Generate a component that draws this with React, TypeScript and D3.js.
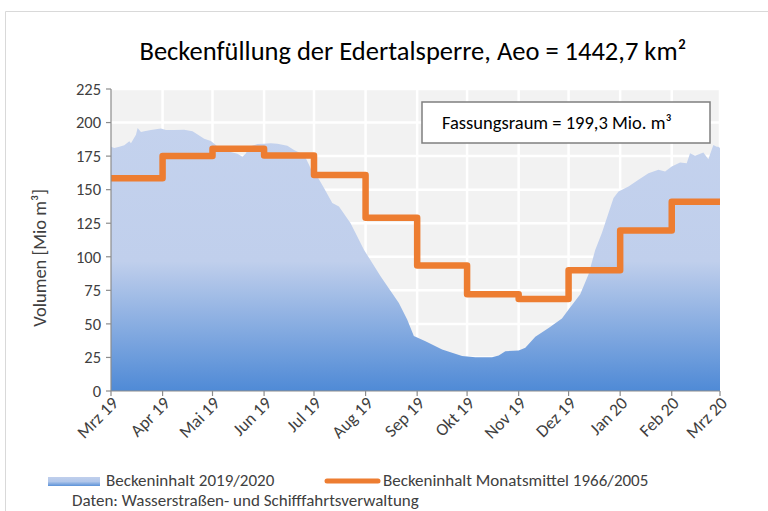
import React from 'react'
import * as d3 from 'd3'

// Beckeninhalt 2019/2020 (Mio m³)
const fillDates = [
  '2019-03-01', '2019-03-03', '2019-03-06', '2019-03-09', '2019-03-12', '2019-03-13', '2019-03-16', '2019-03-17',
  '2019-03-19', '2019-03-21', '2019-03-25', '2019-03-31', '2019-04-03', '2019-04-08', '2019-04-14', '2019-04-19',
  '2019-04-23', '2019-04-26', '2019-04-30', '2019-05-03', '2019-05-06', '2019-05-12', '2019-05-16', '2019-05-19',
  '2019-05-21', '2019-05-23', '2019-05-28', '2019-06-01', '2019-06-05', '2019-06-09', '2019-06-15', '2019-06-19',
  '2019-06-23', '2019-06-26', '2019-06-28', '2019-06-30', '2019-07-03', '2019-07-07', '2019-07-12', '2019-07-16',
  '2019-07-23', '2019-07-31', '2019-08-10', '2019-08-21', '2019-08-26', '2019-08-30', '2019-09-06', '2019-09-16',
  '2019-09-28', '2019-10-06', '2019-10-16', '2019-10-20', '2019-10-24', '2019-11-01', '2019-11-05', '2019-11-11',
  '2019-11-19', '2019-11-27', '2019-12-01', '2019-12-08', '2019-12-13', '2019-12-17', '2019-12-21', '2019-12-25',
  '2019-12-28', '2019-12-31', '2020-01-06', '2020-01-12', '2020-01-18', '2020-01-24', '2020-01-28', '2020-02-01',
  '2020-02-06', '2020-02-10', '2020-02-12', '2020-02-15', '2020-02-20', '2020-02-23', '2020-02-26', '2020-02-28',
  '2020-02-29', '2020-03-01',
]
const fillValues = [
  182, 181, 182, 183, 186, 184.5, 191, 196,
  193, 193.5, 194.5, 195.5, 194.5, 194.5, 194.7, 193.5,
  190.3, 188, 186.3, 183.3, 179, 178, 176.7, 174.6,
  177, 182, 184, 184.3, 184.6, 184.3, 182.8, 179.6,
  177.2, 173.5, 168.5, 163, 159.8, 151.2, 140, 137.5,
  125, 105.3, 85.4, 65.6, 53.2, 41, 37, 31,
  26, 25.2, 25.2, 26.5, 29.7, 30.2, 32.2, 40.4,
  47, 54, 60.7, 72, 87, 105, 117.7, 132.6,
  143.7, 148.6, 152.3, 157.3, 162.3, 164.8, 163.5, 167.2,
  170.2, 169.7, 177.2, 175.2, 177.6, 172.7, 183.3, 182,
  182, 181,
]

// Monatsmittel 1966/2005
const monthDates = [
  '2019-03-01', '2019-04-01', '2019-05-01', '2019-06-01', '2019-07-01', '2019-08-01', '2019-09-01',
  '2019-10-01', '2019-11-01', '2019-12-01', '2020-01-01', '2020-02-01', '2020-03-01',
]
const meanValues = [158.5, 175, 180.5, 175.5, 161, 129, 93.5, 72, 68.5, 90, 119.5, 141, 141]

const monthLabels = [
  'Mrz 19', 'Apr 19', 'Mai 19', 'Jun 19', 'Jul 19', 'Aug 19', 'Sep 19',
  'Okt 19', 'Nov 19', 'Dez 19', 'Jan 20', 'Feb 20', 'Mrz 20',
]
const yTicks = [0, 25, 50, 75, 100, 125, 150, 175, 200, 225]

const FONT = 'Carlito, Lato, sans-serif'
const W = 768
const H = 511
const margin = { top: 89, right: 48, bottom: 120, left: 111 }

export default function App() {
  const parse = d3.timeParse('%Y-%m-%d')
  const x = d3.scaleTime()
    .domain([parse('2019-03-01')!, parse('2020-03-01')!])
    .range([margin.left, W - margin.right])
  const y = d3.scaleLinear().domain([0, 225]).range([H - margin.bottom, margin.top])

  const fillData = fillDates.map((d, i) => ({ date: parse(d)!, v: fillValues[i] }))
  const meanData = monthDates.map((d, i) => ({ date: parse(d)!, v: meanValues[i] }))
  const months = monthDates.map(d => parse(d)!)

  const area = d3.area<{ date: Date; v: number }>()
    .x(d => x(d.date)).y0(y(0)).y1(d => y(d.v))
  const step = d3.line<{ date: Date; v: number }>()
    .x(d => x(d.date)).y(d => y(d.v)).curve(d3.curveStepAfter)

  const [x0, x1] = x.range()
  const [y0, y1] = y.range()

  return (
    <svg width={W} height={H} style={{ position: 'absolute', left: 0, top: 0, background: '#fff' }}>
      <defs>
        <linearGradient id="fillGrad" gradientUnits="userSpaceOnUse" x1={0} x2={0} y1={y1} y2={y0}>
          <stop offset="0" stopColor="#c5d3ee" />
          <stop offset="0.57" stopColor="#c0cfec" />
          <stop offset="1" stopColor="#4f8ad6" />
        </linearGradient>
        <linearGradient id="legGrad" x1="0" x2="0" y1="0" y2="1">
          <stop offset="0" stopColor="#c0cfec" />
          <stop offset="0.5" stopColor="#b2c7ea" />
          <stop offset="1" stopColor="#5b92d8" />
        </linearGradient>
      </defs>

      {/* chart frame */}
      <path d={`M5.5,${H}V11.5H${W}`} fill="none" stroke="#d9d9d9" strokeWidth={1} />

      <text x={413} y={60} textAnchor="middle" fontFamily={FONT} fontSize={26.5} fill="#000">
        Beckenfüllung der Edertalsperre, Aeo = 1442,7 km²
      </text>

      {/* plot background + grid */}
      <rect x={x0} y={y1} width={x1 - x0} height={y0 - y1} fill="#f2f2f2" />
      {yTicks.slice(1).map(t => (
        <line key={t} x1={x0} x2={x1} y1={y(t)} y2={y(t)} stroke="#fff" strokeWidth={2.5} />
      ))}
      {months.slice(1).map((m, i) => (
        <line key={i} x1={x(m)} x2={x(m)} y1={y1} y2={y0} stroke="#fff" strokeWidth={2.5} />
      ))}

      <path d={area(fillData)!} fill="url(#fillGrad)" />
      <path d={step(meanData)!} fill="none" stroke="#ed7d31" strokeWidth={6.5} strokeLinejoin="round" />

      {/* axes */}
      <line x1={x0} x2={x0} y1={y1} y2={y0} stroke="#8c8c8c" strokeWidth={1.2} />
      <line x1={x0} x2={x1} y1={y0} y2={y0} stroke="#8c8c8c" strokeWidth={1.2} />
      {yTicks.map(t => (
        <g key={t}>
          <line x1={x0 - 5} x2={x0} y1={y(t)} y2={y(t)} stroke="#8c8c8c" strokeWidth={1.2} />
          <text x={x0 - 10} y={y(t)} dy="0.35em" textAnchor="end" fontFamily={FONT} fontSize={16.5} fill="#404040">
            {t}
          </text>
        </g>
      ))}
      {months.map((m, i) => (
        <g key={i}>
          <line x1={x(m)} x2={x(m)} y1={y0} y2={y0 + 5} stroke="#8c8c8c" strokeWidth={1.2} />
          <text transform={`translate(${x(m) + 4},${y0 + 9}) rotate(-45)`} dy="0.35em" textAnchor="end"
            fontFamily={FONT} fontSize={17.5} fill="#404040">
            {monthLabels[i]}
          </text>
        </g>
      ))}
      <text transform={`translate(46,258) rotate(-90)`} textAnchor="middle" fontFamily={FONT} fontSize={18.5} fill="#404040">
        Volumen [Mio m³]
      </text>

      {/* annotation box */}
      <rect x={422} y={102} width={288} height={41} fill="#fff" stroke="#7f7f7f" strokeWidth={1.5} />
      <text x={442} y={129} fontFamily={FONT} fontSize={18.5} fill="#000">
        Fassungsraum = 199,3 Mio. m³
      </text>

      {/* legend */}
      <rect x={48} y={477} width={52} height={9} fill="url(#legGrad)" />
      <text x={106} y={486} fontFamily={FONT} fontSize={17} fill="#404040">Beckeninhalt 2019/2020</text>
      <line x1={327} x2={378} y1={481} y2={481} stroke="#ed7d31" strokeWidth={5} strokeLinecap="round" />
      <text x={383} y={486} fontFamily={FONT} fontSize={17} fill="#404040">Beckeninhalt Monatsmittel 1966/2005</text>
      <text x={72} y={506} fontFamily={FONT} fontSize={17} fill="#404040">
        Daten: Wasserstraßen- und Schifffahrtsverwaltung
      </text>
    </svg>
  )
}
